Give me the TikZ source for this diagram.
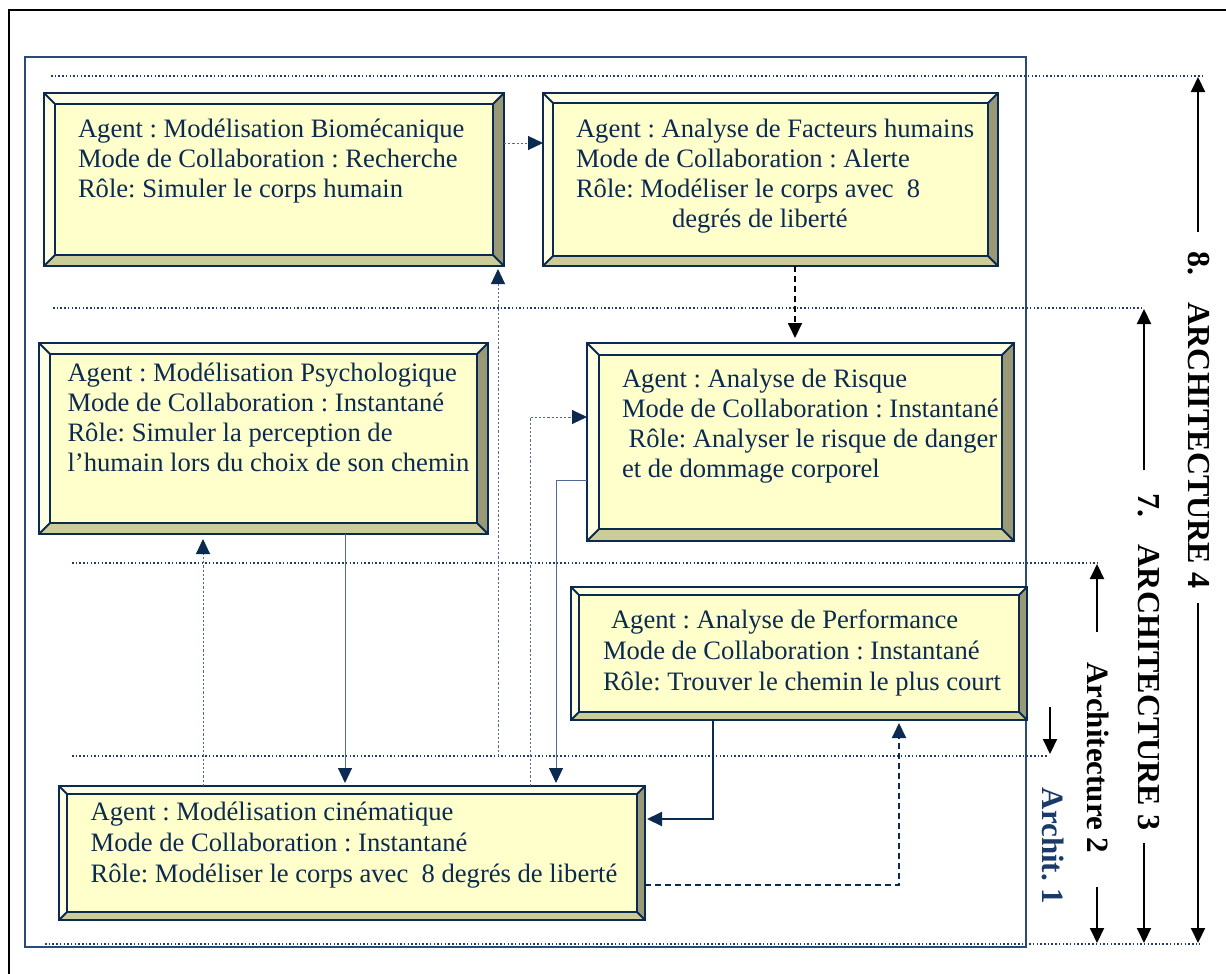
\documentclass[tikz,border=0pt]{standalone}
\usepackage{fontspec}
\setmainfont{Liberation Serif}
\usetikzlibrary{arrows.meta,calc}
\frenchspacing
\definecolor{navy}{HTML}{0B2A4F}
\definecolor{slate}{HTML}{4F6A8F}
\definecolor{sepc}{HTML}{1F3D6B}
\definecolor{framec}{HTML}{2A4A78}
\definecolor{bvlight}{HTML}{FFFFE3}
\definecolor{bvface}{HTML}{FFFFCC}
\definecolor{bvright}{HTML}{999977}
\definecolor{bvbottom}{HTML}{CCCC99}
\definecolor{archnavy}{HTML}{1A3A6A}
\tikzset{
  navytip/.tip={Triangle[length=15pt,width=14pt,color=navy]},
  blacktip/.tip={Triangle[length=15pt,width=14pt,color=black]},
}
\newcommand{\bevbox}[6]{%
  \node[bx, minimum width=#4pt, minimum height=#5pt, anchor=north west] (#1) at (#2,#3) {};
  \coordinate (#1-a) at ([shift={(#6pt,-#6pt)}]#1.north west);
  \coordinate (#1-b) at ([shift={(-#6pt,-#6pt)}]#1.north east);
  \coordinate (#1-c) at ([shift={(-#6pt,#6pt)}]#1.south east);
  \coordinate (#1-d) at ([shift={(#6pt,#6pt)}]#1.south west);
  \fill[bvlight] (#1.north west) -- (#1.north east) -- (#1-b) -- (#1-a) -- cycle;
  \fill[bvlight] (#1.north west) -- (#1-a) -- (#1-d) -- (#1.south west) -- cycle;
  \fill[bvright] (#1.north east) -- (#1.south east) -- (#1-c) -- (#1-b) -- cycle;
  \fill[bvbottom] (#1.south west) -- (#1-d) -- (#1-c) -- (#1.south east) -- cycle;
  \fill[bvface] (#1-a) rectangle (#1-c);
  \draw[bvline] (#1.north west) -- (#1-a) (#1.north east) -- (#1-b)
     (#1.south east) -- (#1-c) (#1.south west) -- (#1-d);
  \draw[bvline] (#1-a) rectangle (#1-c);
  \draw[bvline] (#1.north west) rectangle (#1.south east);
}
\begin{document}
\begin{tikzpicture}[x=1pt,y=-1pt,
  bx/.style={inner sep=0pt,outer sep=0pt,draw=none},
  bvline/.style={draw=navy,line width=1.8pt,line join=miter},
  txt/.style={anchor=north west,inner sep=0pt,outer sep=0pt,align=left,text=navy,
    font=\fontsize{26.6}{30}\selectfont},
  txtb/.style={txt,font=\fontsize{26.6}{31}\selectfont},
  sepline/.style={draw=sepc,line width=1.6pt,dash pattern=on 1.5pt off 2.2pt},
  dotc/.style={draw=slate,line width=1pt,dash pattern=on 2.2pt off 2pt,-navytip},
  thinc/.style={draw=slate,line width=1pt,-navytip},
  boldc/.style={draw=navy,line width=2pt,-navytip},
  dashn/.style={draw=navy,line width=2pt,dash pattern=on 6pt off 4pt,-navytip},
  dashk/.style={draw=black,line width=1.8pt,dash pattern=on 6pt off 4pt,-blacktip},
  blk/.style={draw=black,line width=2pt,-blacktip},
  archlab/.style={inner sep=0pt,rotate=-90,font=\fontsize{32}{36}\selectfont\bfseries},
  archlab2/.style={inner sep=0pt,rotate=-90,font=\fontsize{31}{35}\selectfont\bfseries},
]
\useasboundingbox (0,0) rectangle (1226,974);
\fill[white] (0,0) rectangle (1226,974);

% outer page frame and inner frame
\coordinate (ofa) at (9,974);
\coordinate (ofb) at (9,10);
\coordinate (ofc) at (1226,10);
\draw[black,line width=2.2pt] (ofa) -- (ofb) -- (ofc);
\coordinate (ifa) at (25,57);
\coordinate (ifb) at (1026,947);
\draw[framec,line width=1.3pt] (ifa) rectangle (ifb);

% dotted separators
\coordinate (s1a) at (51,76);   \coordinate (s1b) at (1202,76);
\coordinate (s2a) at (53,308);  \coordinate (s2b) at (1142,308);
\coordinate (s3a) at (72,563);  \coordinate (s3b) at (1097,563);
\coordinate (s4a) at (72,756);  \coordinate (s4b) at (1048,756);
\coordinate (s5a) at (45,944);  \coordinate (s5b) at (1200,944);
\draw[sepline] (s1a) -- (s1b);
\draw[sepline] (s2a) -- (s2b);
\draw[sepline] (s3a) -- (s3b);
\draw[sepline] (s4a) -- (s4b);
\draw[sepline] (s5a) -- (s5b);

% boxes
\bevbox{b1}{44}{93}{460}{173}{11}
\bevbox{b2}{543}{93}{455}{173}{10}
\bevbox{b3}{39}{343}{449}{191}{11}
\bevbox{b4}{587}{343}{427}{198}{12}
\bevbox{b5}{571}{587}{456}{133}{8}
\bevbox{b6}{59}{786}{586}{134}{8}

% texts
\node[txt] (t1) at (78,116) {\strut Agent : Modélisation Biomécanique\\Mode de Collaboration : Recherche\\Rôle: Simuler le corps humain};
\node[txt] (t2) at (576,116) {\strut Agent : Analyse de Facteurs humains\\Mode de Collaboration : Alerte\\Rôle: Modéliser le corps avec\ \ 8\\\hspace*{96pt}degrés de liberté};
\node[txt] (t3) at (67.5,360) {\strut Agent : Modélisation Psychologique\\Mode de Collaboration : Instantané\\Rôle: Simuler la perception de\\l’humain lors du choix de son chemin};
\node[txt] (t4) at (622,366) {\strut Agent : Analyse de Risque\\Mode de Collaboration : Instantané\\\hspace*{6.6pt}Rôle: Analyser le risque de danger\\et de dommage corporel};
\node[txtb] (t5) at (603,607) {\strut\hspace*{8pt}Agent : Analyse de Performance\\Mode de Collaboration : Instantané\\Rôle: Trouver le chemin le plus court};
\node[txtb] (t6) at (90.7,799) {\strut Agent : Modélisation cinématique\\Mode de Collaboration : Instantané\\Rôle: Modéliser le corps avec\ \ 8 degrés de liberté};

% vertical reference coordinates
\coordinate (x203) at (203,0);
\coordinate (x345) at (345,0);
\coordinate (x530) at (530,0);
\coordinate (x556) at (556,0);
\coordinate (x713) at (713,0);
\coordinate (x795) at (795,0);
\coordinate (x899) at (899,0);
\coordinate (v498) at (498,756);

% connectors
\draw[dotc] ([yshift=-50pt]b1.north east) -- ([yshift=-50pt]b2.north west);
\draw[dashk,shorten >=5pt] (x795 |- b2.south) -- (x795 |- b4.north);
\draw[dotc,shorten >=3pt] (v498) -- (v498 |- b1.south);
\draw[dotc] (x530 |- b6.north) |- ([yshift=-74pt]b4.north west);
\draw[thinc,shorten >=3pt] ([yshift=-137pt]b4.north west) -| (x556 |- b6.north);
\draw[thinc,shorten >=3pt] (x345 |- b3.south) -- (x345 |- b6.north);
\draw[dotc,shorten >=5pt] (x203 |- b6.north) -- (x203 |- b3.south);
\draw[boldc,shorten >=2pt] (x713 |- b5.south) |- ([yshift=-33pt]b6.north east);
\draw[dashn,shorten >=3pt] ([yshift=-99pt]b6.north east) -| (x899 |- b5.south);

% architecture labels
\node[archlab] (a4) at (1199,420) {8.\hspace{27pt}ARCHITECTURE 4};
\node[archlab] (a3) at (1149,662) {7.\hspace{27pt}ARCHITECTURE 3};
\node[archlab2] (a2) at (1098,758) {Architecture 2};
\node[archlab2,text=archnavy] (a1) at (1053,846) {Archit. 1};

\coordinate (a4u) at (1198,232); \coordinate (a4ut) at (1198,77);
\coordinate (a4d) at (1198,603); \coordinate (a4dt) at (1198,943);
\coordinate (a3u) at (1144,470); \coordinate (a3ut) at (1144,309);
\coordinate (a3d) at (1144,843); \coordinate (a3dt) at (1144,943);
\coordinate (a2u) at (1097,632); \coordinate (a2ut) at (1097,564);
\coordinate (a2d) at (1097,887); \coordinate (a2dt) at (1097,943);
\coordinate (a1d) at (1050,707); \coordinate (a1dt) at (1050,754);
\draw[blk] (a4u) -- (a4ut);
\draw[blk] (a4d) -- (a4dt);
\draw[blk] (a3u) -- (a3ut);
\draw[blk] (a3d) -- (a3dt);
\draw[blk] (a2u) -- (a2ut);
\draw[blk] (a2d) -- (a2dt);
\draw[blk] (a1d) -- (a1dt);
\end{tikzpicture}
\end{document}
